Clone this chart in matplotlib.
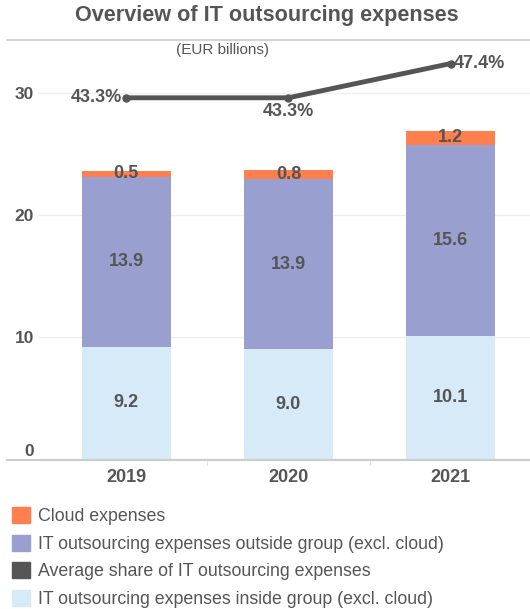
import numpy as np
import matplotlib.pyplot as plt
from matplotlib.patches import Patch
from matplotlib.lines import Line2D

plt.rcParams['font.family'] = ['Liberation Sans', 'DejaVu Sans']

years = ["2019", "2020", "2021"]
inside = [9.2, 9.0, 10.1]
outside = [13.9, 13.9, 15.6]
cloud = [0.5, 0.8, 1.2]
share = [43.3, 43.3, 47.4]

C_INSIDE = "#d6ebf7"
C_OUTSIDE = "#99a0cf"
C_CLOUD = "#ff7f4f"
C_LINE = "#555555"
TXT = "#555555"

fig = plt.figure(figsize=(5.3, 6.09), dpi=100)
ax = fig.add_axes([38 / 530, 0.246, 1 - 38 / 530, 0.688])

x = np.arange(len(years))
w = 0.55
ins = np.array(inside)
outs = np.array(outside)
cl = np.array(cloud)

ax.bar(x, ins, w, color=C_INSIDE, zorder=2)
ax.bar(x, outs, w, bottom=ins, color=C_OUTSIDE, zorder=2)
ax.bar(x, cl, w, bottom=ins + outs, color=C_CLOUD, zorder=2)

lbl = dict(ha="center", va="center", fontsize=13, fontweight="bold", color=TXT, zorder=3)
for i in range(len(years)):
    ax.text(x[i], ins[i] / 2, f"{inside[i]:.1f}", **lbl)
    ax.text(x[i], ins[i] + outs[i] / 2, f"{outside[i]:.1f}", **lbl)
    ax.text(x[i], ins[i] + outs[i] + cl[i] / 2, f"{cloud[i]:.1f}", **lbl)

ax.set_xlim(-0.545, 2.49)
ax.set_ylim(0, 34.3)
ax.set_yticks([0, 10, 20, 30])
ax.yaxis.grid(True, color="#eeeeee", linewidth=1, zorder=0)
ax.set_xticks(x)
ax.set_xticklabels(years, fontsize=13, fontweight="bold", color=TXT)
ax.tick_params(axis="x", length=0, pad=7)
ax.tick_params(axis="y", length=0, pad=3, labelsize=12.5, labelcolor=TXT)
for t in ax.get_yticklabels():
    t.set_fontweight("bold")
ax.get_yticklabels()[0].set_va("bottom")
for s in ax.spines.values():
    s.set_visible(False)

# category separators
ax.set_xticks([0.5, 1.5], minor=True)
ax.tick_params(axis="x", which="minor", length=4, color="#dddddd")

# share line on its own scale
ax2 = ax.twinx()
ax2.set_ylim(0, 50.2)
ax2.axis("off")
ax2.plot(x, share, color=C_LINE, linewidth=3.5, marker="o", markersize=5, zorder=5)
pl = dict(textcoords="offset points", fontsize=13, fontweight="bold", color=TXT)
ax2.annotate(f"{share[0]:.1f}%", (x[0], share[0]), xytext=(-3, 0), ha="right", va="center", **pl)
ax2.annotate(f"{share[1]:.1f}%", (x[1], share[1]), xytext=(0, -4), ha="center", va="top", **pl)
ax2.annotate(f"{share[2]:.1f}%", (x[2], share[2]), xytext=(2, 0), ha="left", va="center", **pl)

# frame lines spanning figure width
fig.add_artist(Line2D([7 / 530, 1], [1 - 40 / 609] * 2, color="#cccccc", linewidth=1.2))
fig.add_artist(Line2D([7 / 530, 1], [1 - 460 / 609] * 2, color="#cccccc", linewidth=1.5))

fig.text(267 / 530, 1 - 16 / 609, "Overview of IT outsourcing expenses", ha="center", va="center",
         fontsize=15.6, fontweight="bold", color=TXT)
fig.text(222 / 530, 1 - 50 / 609, "(EUR billions)", ha="center", va="center",
         fontsize=11, color=TXT)

handles = [Patch(color=C_CLOUD), Patch(color=C_OUTSIDE), Patch(color=C_LINE), Patch(color=C_INSIDE)]
labels = ["Cloud expenses", "IT outsourcing expenses outside group (excl. cloud)",
          "Average share of IT outsourcing expenses", "IT outsourcing expenses inside group (excl. cloud)"]
fig.legend(handles, labels, loc="upper left", bbox_to_anchor=(12 / 530, 1 - 507 / 609),
           frameon=False, fontsize=12.8, labelcolor=TXT, handlelength=1.0, handleheight=1.0,
           handletextpad=0.45, labelspacing=0.54, borderaxespad=0, borderpad=0)

fig.savefig("out.png", dpi=100)
